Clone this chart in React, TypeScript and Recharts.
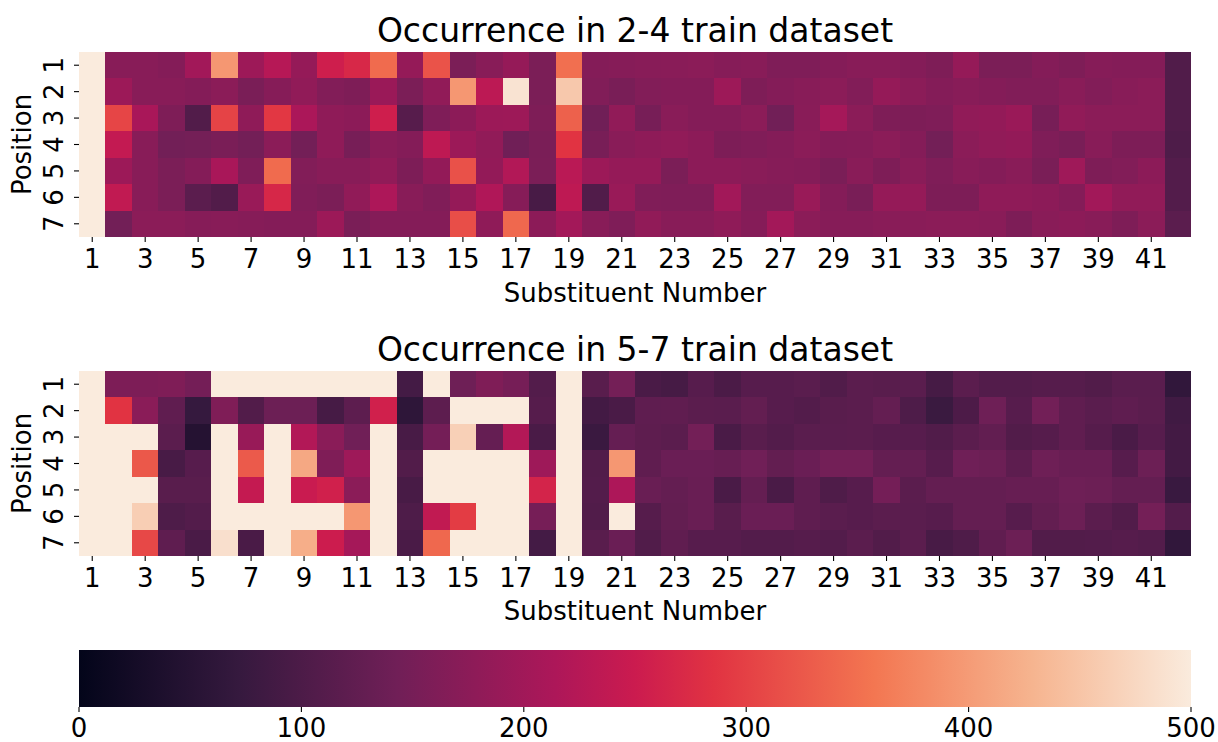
import React from 'react';
import { BarChart, Bar, XAxis, YAxis } from 'recharts';

// Substituent numbers along the x axis and positions along the y axis
const substituents = [
  1, 2, 3, 4, 5, 6, 7, 8, 9, 10, 11, 12, 13, 14, 15, 16, 17, 18, 19, 20, 21,
  22, 23, 24, 25, 26, 27, 28, 29, 30, 31, 32, 33, 34, 35, 36, 37, 38, 39, 40, 41, 42,
];
const positions = [1, 2, 3, 4, 5, 6, 7];
const positionTicks = [0.5, 1.5, 2.5, 3.5, 4.5, 5.5, 6.5];
const colorbarTicks = [0, 100, 200, 300, 400, 500];

// Occurrence counts, 2-4 train dataset (one array per position)
const train24Pos1 = [500, 171, 171, 166, 201, 395, 196, 225, 186, 255, 270, 345, 186, 320, 156, 171, 186, 156, 350, 166, 169, 171, 172, 174, 169, 171, 161, 161, 166, 171, 171, 166, 159, 186, 156, 156, 166, 159, 169, 166, 166, 105];
const train24Pos2 = [500, 194, 171, 171, 166, 174, 154, 169, 181, 164, 159, 192, 156, 182, 395, 232, 490, 156, 455, 163, 153, 164, 166, 166, 196, 159, 166, 171, 174, 164, 186, 174, 166, 171, 166, 163, 163, 172, 164, 171, 174, 105];
const train24Pos3 = [500, 305, 210, 159, 106, 303, 179, 290, 212, 179, 176, 255, 112, 161, 176, 194, 196, 159, 335, 143, 182, 151, 172, 166, 166, 174, 144, 172, 205, 174, 159, 158, 161, 181, 184, 192, 151, 182, 174, 174, 174, 105];
const train24Pos4 = [500, 240, 171, 145, 147, 154, 146, 174, 146, 179, 151, 172, 166, 235, 194, 181, 143, 154, 285, 152, 172, 178, 181, 176, 158, 162, 166, 174, 166, 168, 174, 166, 146, 174, 181, 184, 161, 153, 171, 158, 158, 102];
const train24Pos5 = [500, 194, 171, 156, 166, 210, 161, 345, 164, 171, 171, 181, 158, 184, 318, 184, 220, 156, 230, 194, 186, 186, 156, 176, 176, 172, 169, 166, 154, 172, 159, 172, 161, 171, 166, 172, 154, 198, 159, 164, 176, 108];
const train24Pos6 = [500, 238, 171, 156, 118, 106, 191, 268, 162, 156, 182, 214, 171, 162, 186, 218, 169, 95, 235, 105, 191, 162, 161, 161, 201, 164, 164, 191, 166, 153, 186, 186, 158, 158, 179, 179, 176, 166, 201, 181, 181, 108];
const train24Pos7 = [500, 145, 174, 174, 169, 171, 169, 166, 166, 194, 154, 166, 166, 166, 315, 179, 342, 176, 202, 171, 161, 182, 171, 171, 179, 168, 203, 174, 169, 169, 172, 172, 174, 174, 172, 158, 172, 176, 171, 159, 174, 118];

// Occurrence counts, 5-7 train dataset (one array per position)
const train57Pos1 = [500, 158, 158, 160, 148, 500, 500, 500, 500, 500, 500, 500, 90, 500, 141, 160, 150, 108, 500, 115, 147, 97, 92, 113, 98, 113, 113, 116, 105, 118, 115, 116, 92, 118, 108, 108, 111, 111, 106, 116, 116, 65];
const train57Pos2 = [500, 285, 173, 124, 72, 160, 107, 138, 138, 92, 120, 258, 62, 120, 500, 500, 500, 111, 500, 88, 97, 122, 124, 118, 116, 127, 113, 108, 115, 118, 128, 102, 78, 100, 140, 113, 145, 124, 116, 122, 117, 85];
const train57Pos3 = [500, 500, 500, 118, 48, 500, 190, 500, 220, 173, 143, 500, 95, 148, 465, 130, 222, 97, 500, 77, 130, 121, 118, 146, 97, 115, 108, 116, 116, 118, 113, 113, 105, 117, 126, 106, 111, 124, 111, 97, 113, 88];
const train57Pos4 = [500, 500, 325, 95, 113, 500, 327, 500, 415, 160, 197, 500, 106, 500, 500, 500, 500, 197, 500, 107, 395, 124, 136, 136, 132, 143, 127, 136, 146, 146, 128, 128, 113, 142, 138, 120, 141, 134, 134, 113, 138, 88];
const train57Pos5 = [500, 500, 500, 115, 115, 500, 242, 500, 248, 258, 174, 500, 94, 500, 500, 500, 500, 263, 500, 108, 214, 134, 128, 134, 97, 128, 97, 122, 103, 113, 148, 118, 128, 128, 128, 132, 132, 140, 138, 128, 128, 76];
const train57Pos6 = [500, 500, 462, 102, 108, 500, 500, 500, 500, 500, 395, 500, 102, 238, 295, 500, 500, 150, 500, 105, 500, 111, 127, 134, 115, 136, 136, 122, 116, 113, 118, 116, 113, 128, 128, 113, 127, 138, 118, 107, 147, 108];
const train57Pos7 = [500, 500, 308, 122, 97, 485, 97, 500, 422, 252, 205, 500, 97, 342, 500, 500, 500, 90, 500, 115, 136, 105, 124, 113, 113, 108, 108, 111, 108, 118, 107, 118, 95, 103, 124, 138, 106, 106, 108, 111, 108, 65];

const train24 = [train24Pos1, train24Pos2, train24Pos3, train24Pos4, train24Pos5, train24Pos6, train24Pos7];
const train57 = [train57Pos1, train57Pos2, train57Pos3, train57Pos4, train57Pos5, train57Pos6, train57Pos7];

// Seaborn "rocket" colormap anchors
const ROCKET: [number, string][] = [
  [0, '#03051a'],
  [1 / 7, '#35193e'],
  [2 / 7, '#701f57'],
  [3 / 7, '#ad1759'],
  [0.5, '#cb1b4f'],
  [4 / 7, '#e13342'],
  [5 / 7, '#f37651'],
  [6 / 7, '#f6b48f'],
  [1, '#faebdd'],
];
const VMIN = 0;
const VMAX = 500;

const hexToRgb = (h: string) => [
  parseInt(h.slice(1, 3), 16),
  parseInt(h.slice(3, 5), 16),
  parseInt(h.slice(5, 7), 16),
];

function rocket(t: number): string {
  const u = Math.max(0, Math.min(1, t));
  for (let i = 1; i < ROCKET.length; i++) {
    const [t1, c1] = ROCKET[i];
    if (u <= t1) {
      const [t0, c0] = ROCKET[i - 1];
      const f = (u - t0) / (t1 - t0);
      const a = hexToRgb(c0);
      const b = hexToRgb(c1);
      const m = a.map((v, k) => Math.round(v + (b[k] - v) * f));
      return `rgb(${m[0]},${m[1]},${m[2]})`;
    }
  }
  return ROCKET[ROCKET.length - 1][1];
}
const colorOf = (v: number) => rocket((v - VMIN) / (VMAX - VMIN));

const FONT = '"DejaVu Sans", sans-serif';
const W = 1218;
const CHART_H = 320;
const PLOT_LEFT = 79;
const PLOT_RIGHT_GAP = 27;
const PLOT_TOP = 52;

function buildRows(matrix: number[][]) {
  return substituents.map((s, i) => {
    const row: Record<string, number> = { sub: s };
    positions.forEach((p, r) => {
      row[`p${p}`] = 1;
      row[`c${p}`] = matrix[r][i];
    });
    return row;
  });
}

// Heatmap cell for one position. Recharts truncates the bar width to whole
// pixels, so the right edge is pushed out by half a pixel to close the seam
// with the next column, and all edges are snapped to the pixel grid.
const cellShape = (p: number) => (props: any) => {
  const x = Number(props.x);
  const y = Number(props.y);
  const w = Number(props.width);
  const h = Number(props.height);
  const x0 = Math.round(x);
  const x1 = Math.round(x + w + 0.5);
  const y0 = Math.round(Math.min(y, y + h));
  const y1 = Math.round(Math.max(y, y + h));
  const count = props.payload ? props.payload[`c${p}`] : 0;
  return <rect x={x0} y={y0} width={x1 - x0} height={y1 - y0} fill={colorOf(count)} />;
};

const PositionTick = (props: any) => {
  const { x, y, payload } = props;
  const bx = x - 9;
  return (
    <text
      x={bx}
      y={y}
      transform={`rotate(-90, ${bx}, ${y})`}
      textAnchor="middle"
      fontSize={26}
      fontFamily={FONT}
      fill="#000"
    >
      {payload.value + 0.5}
    </text>
  );
};

function Heatmap({ matrix }: { matrix: number[][] }) {
  const data = buildRows(matrix);
  return (
    <BarChart
      width={W}
      height={CHART_H}
      data={data}
      margin={{ top: PLOT_TOP, right: PLOT_RIGHT_GAP, bottom: 0, left: 0 }}
      barCategoryGap={0}
      barGap={0}
    >
      <XAxis
        dataKey="sub"
        type="category"
        interval={1}
        height={CHART_H - 237}
        axisLine={false}
        tickSize={5}
        tickMargin={8}
        stroke="#000"
        tickLine={{ stroke: '#000', strokeWidth: 1.1 }}
        tick={{ fontSize: 26, fontFamily: FONT, fill: '#000' }}
      />
      <YAxis
        type="number"
        domain={[0, 7]}
        reversed
        ticks={positionTicks}
        interval={0}
        width={PLOT_LEFT}
        axisLine={false}
        tickSize={5}
        tickMargin={2}
        tickLine={{ stroke: '#000', strokeWidth: 1.1 }}
        tick={<PositionTick />}
      />
      {positions.map((p) => (
        <Bar
          key={p}
          dataKey={`p${p}`}
          stackId="rows"
          isAnimationActive={false}
          shape={cellShape(p)}
        />
      ))}
    </BarChart>
  );
}

const colorbarData = [{ name: 'scale', value: VMAX }];

function Colorbar() {
  return (
    <BarChart
      width={W}
      height={142}
      data={colorbarData}
      layout="vertical"
      margin={{ top: 50, right: PLOT_RIGHT_GAP, bottom: 0, left: PLOT_LEFT }}
      barCategoryGap={0}
    >
      <defs>
        <linearGradient id="rocketGrad" x1="0" y1="0" x2="1" y2="0">
          {ROCKET.map(([t, c]) => (
            <stop key={t} offset={`${t * 100}%`} stopColor={c} />
          ))}
        </linearGradient>
      </defs>
      <XAxis
        type="number"
        domain={[VMIN, VMAX]}
        ticks={colorbarTicks}
        interval={0}
        height={35}
        axisLine={false}
        tickSize={5}
        tickMargin={7}
        tickLine={{ stroke: '#000', strokeWidth: 1.1 }}
        tick={{ fontSize: 26, fontFamily: FONT, fill: '#000' }}
      />
      <YAxis type="category" dataKey="name" hide width={0} />
      <Bar dataKey="value" fill="url(#rocketGrad)" isAnimationActive={false} />
    </BarChart>
  );
}

const centerX = (PLOT_LEFT + (W - PLOT_RIGHT_GAP)) / 2;

function Captions() {
  const t = { fontFamily: FONT, fill: '#000' };
  return (
    <svg
      width={W}
      height={742}
      style={{ position: 'absolute', left: 0, top: 0, pointerEvents: 'none' }}
    >
      <text x={centerX} y={42} textAnchor="middle" fontSize={33} {...t}>
        Occurrence in 2-4 train dataset
      </text>
      <text x={centerX} y={302} textAnchor="middle" fontSize={26} {...t}>
        Substituent Number
      </text>
      <text x={31} y={144.5} transform="rotate(-90, 31, 144.5)" textAnchor="middle" fontSize={26} {...t}>
        Position
      </text>
      <text x={centerX} y={361} textAnchor="middle" fontSize={33} {...t}>
        Occurrence in 5-7 train dataset
      </text>
      <text x={centerX} y={620} textAnchor="middle" fontSize={26} {...t}>
        Substituent Number
      </text>
      <text x={31} y={463.5} transform="rotate(-90, 31, 463.5)" textAnchor="middle" fontSize={26} {...t}>
        Position
      </text>
    </svg>
  );
}

export default function App() {
  return (
    <div style={{ position: 'absolute', left: 0, top: 0, width: W, height: 742, background: '#fff' }}>
      <div style={{ position: 'absolute', left: 0, top: 0 }}>
        <Heatmap matrix={train24} />
      </div>
      <div style={{ position: 'absolute', left: 0, top: 319 }}>
        <Heatmap matrix={train57} />
      </div>
      <div style={{ position: 'absolute', left: 0, top: 600 }}>
        <Colorbar />
      </div>
      <Captions />
    </div>
  );
}
